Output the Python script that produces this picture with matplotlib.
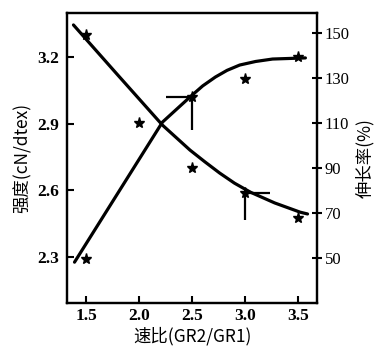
import matplotlib
matplotlib.use("Agg")
import matplotlib.pyplot as plt

plt.rcParams['font.family'] = ['Liberation Serif', 'Noto Sans CJK SC', 'DejaVu Sans']

# Measured points
strength_x = [1.5, 2.5, 3.0, 3.5]
strength = [2.29, 3.02, 3.10, 3.20]
elong_x = [1.5, 2.0, 2.5, 3.0, 3.5]
elongation = [149, 110, 90, 79, 68]

# Trend curves
strength_curve_x = [1.39, 2.22, 2.48, 2.60, 2.72, 2.83, 2.95, 3.10, 3.26, 3.57]
strength_curve = [2.277, 2.907, 3.02, 3.07, 3.11, 3.14, 3.164, 3.18, 3.191, 3.196]
elong_curve_x = [1.38, 1.79, 2.22, 2.48, 2.62, 2.76, 2.90, 3.05, 3.28, 3.52, 3.59]
elong_curve = [153.6, 131.8, 109.1, 98.0, 92.8, 87.8, 83.3, 79.3, 74.5, 70.4, 69.6]

# Error bars (asymmetric: [minus], [plus])
s_err_x = ([0.25], [0.0])
s_err_y = ([0.15], [0.0])
e_err_x = ([0.0], [0.24])
e_err_y = ([12], [0])

left_ticks = [2.3, 2.6, 2.9, 3.2]
right_ticks = [50, 70, 90, 110, 130, 150]
x_ticks = [1.5, 2.0, 2.5, 3.0, 3.5]

fig = plt.figure(figsize=(3.77, 3.52), dpi=100)
ax = fig.add_axes([0.178, 0.139, 0.663, 0.824])
ax2 = ax.twinx()

ax.plot(strength_curve_x, strength_curve, color='black', lw=2.3,
        solid_capstyle='round', solid_joinstyle='round')
ax.plot(strength_x, strength, linestyle='none', marker='*', ms=8, color='black')
ax.errorbar([strength_x[1]], [strength[1]], xerr=s_err_x, yerr=s_err_y,
            fmt='none', ecolor='black', elinewidth=1.6, capsize=0)

ax2.plot(elong_curve_x, elong_curve, color='black', lw=2.3,
         solid_capstyle='round', solid_joinstyle='round')
ax2.plot(elong_x, elongation, linestyle='none', marker='*', ms=8, color='black')
ax2.errorbar([elong_x[3]], [elongation[3]], xerr=e_err_x, yerr=e_err_y,
             fmt='none', ecolor='black', elinewidth=1.6, capsize=0)

ax.set_xlim(1.32, 3.68)
ax.set_ylim(2.093, 3.398)
ax2.set_ylim(30, 158.9)

ax.set_xticks(x_ticks)
ax.set_xticklabels([f"{v:.1f}" for v in x_ticks], fontsize=12.5, fontweight='bold')
ax.set_yticks(left_ticks)
ax.set_yticklabels([f"{v:.1f}" for v in left_ticks], fontsize=12.5, fontweight='bold')
ax2.set_yticks(right_ticks)
ax2.set_yticklabels([str(v) for v in right_ticks], fontsize=12)

ax.tick_params(axis='both', direction='in', length=5, width=1.5)
ax.tick_params(axis='y', pad=6)
ax2.tick_params(axis='y', direction='inout', length=7, width=1.5, pad=2)

for a in (ax, ax2):
    for s in a.spines.values():
        s.set_linewidth(1.6)

ax.set_xlabel("速比(GR2/GR1)", fontsize=12.5, family=['Noto Sans CJK SC'], labelpad=2)
ax.set_ylabel("强度(cN/dtex)", fontsize=12.5, family=['Noto Sans CJK SC'], labelpad=4)
ax2.set_ylabel("伸长率(%)", fontsize=12.5, family=['Noto Sans CJK SC'], rotation=90, labelpad=4)

fig.savefig("out.png", dpi=100)
